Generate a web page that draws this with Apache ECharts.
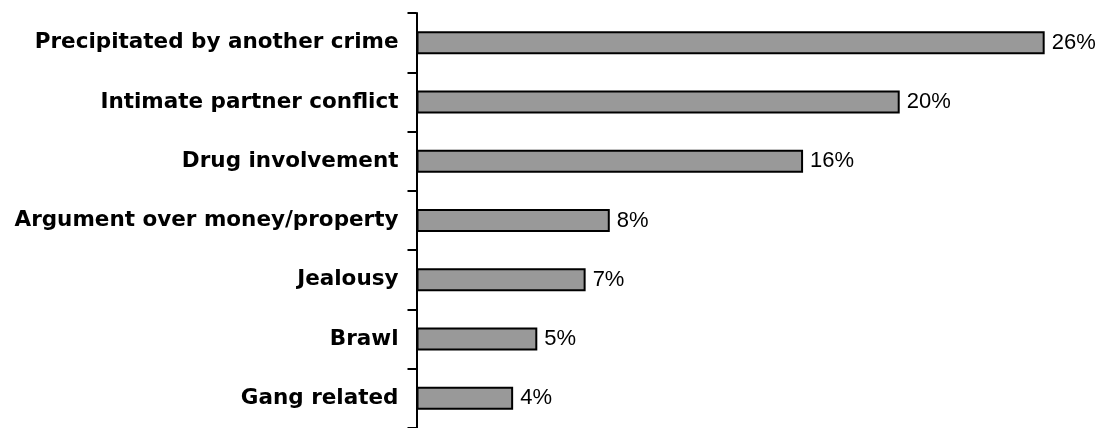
<!DOCTYPE html>
<html><head><meta charset="utf-8">
<script src="https://cdn.jsdelivr.net/npm/echarts@6/dist/echarts.min.js"></script>
<style>html,body{margin:0;padding:0;background:#fff}#c{width:1105px;height:428px}</style>
</head><body><div id="c"></div>
<script>
const categories = ["Precipitated by another crime","Intimate partner conflict","Drug involvement","Argument over money/property","Jealousy","Brawl","Gang related"];
const values = [26,20,16,8,7,5,4];
const chart = echarts.init(document.getElementById('c'), null, {renderer:'canvas'});
chart.setOption({
  animation:false,
  grid:{left:416.5, top:13, height:417.5, right:12, containLabel:false},
  xAxis:{type:'value', min:0, max:28, show:false},
  yAxis:{type:'category', inverse:true, data:categories,
    axisLine:{show:true, lineStyle:{color:'#000', width:2}},
    axisTick:{show:true, inside:false, length:9, lineStyle:{color:'#000', width:2}},
    axisLabel:{color:'#000', fontFamily:'DejaVu Sans', fontWeight:'bold', fontSize:21.5, margin:18}},
  series:[{type:'bar', data:values, barWidth:23,
    itemStyle:{color:'#999999', borderColor:'#000', borderWidth:2},
    label:{show:true, position:'right', distance:7, color:'#000', fontFamily:'Liberation Sans', fontSize:22, formatter:'{c}%'}}]
});
</script></body></html>
